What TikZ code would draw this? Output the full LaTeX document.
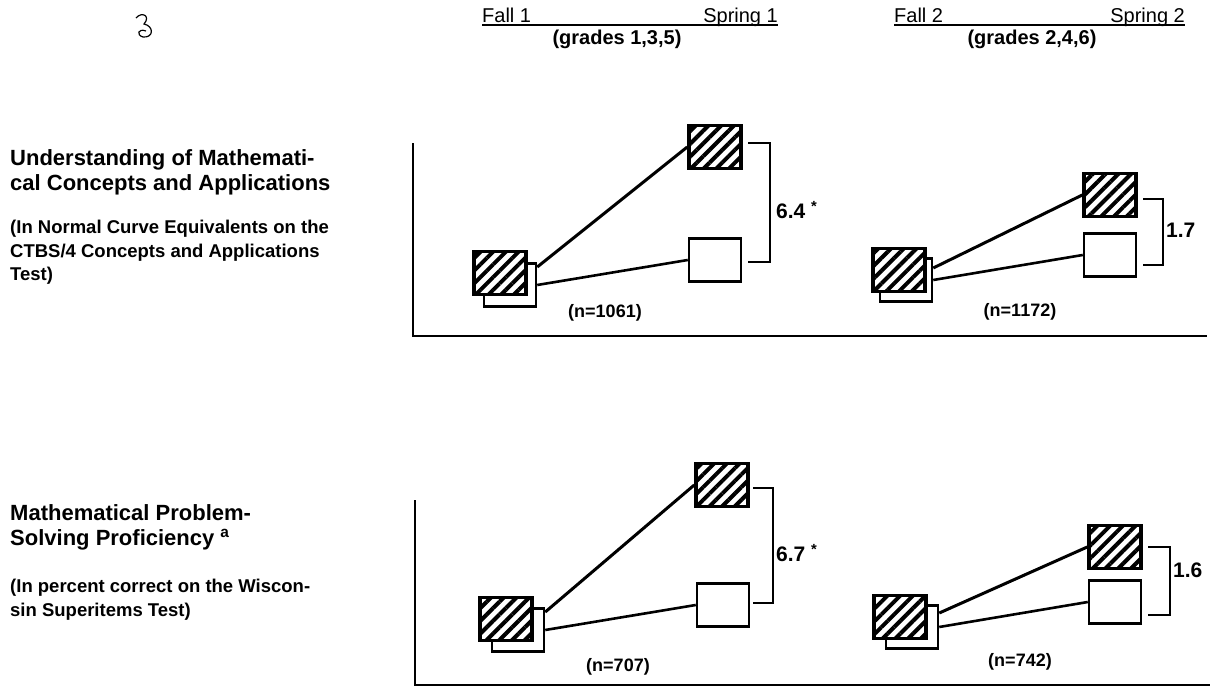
\documentclass[tikz,border=0pt]{standalone}
\usepackage{fontspec}
\setmainfont{Liberation Sans}
\usetikzlibrary{patterns.meta}

\begin{document}
\begin{tikzpicture}[x=1pt, y=-1pt,
    hatched/.style={draw, line width=3.5pt, minimum width=52pt, minimum height=43pt, inner sep=0pt,
      preaction={fill=white}, pattern={Lines[angle=45, distance=9pt, line width=4pt]}},
    plain/.style={draw, line width=2.5pt, fill=white, minimum width=52pt, minimum height=43pt, inner sep=0pt},
    link/.style={line width=2.6pt},
    bracket/.style={line width=1.4pt},
    axis/.style={line width=2.6pt},
    header/.style={font=\fontsize{20}{22}\selectfont, inner sep=0pt},
    grades/.style={font=\bfseries\fontsize{20}{22}\selectfont, inner sep=0pt, anchor=base},
    title/.style={font=\bfseries\fontsize{22}{25}\selectfont, align=left, inner sep=0pt, anchor=north west},
    note/.style={font=\bfseries\fontsize{18.5}{23.5}\selectfont, align=left, inner sep=0pt, anchor=north west},
    diff/.style={font=\bfseries\fontsize{21}{24}\selectfont, inner sep=0pt, anchor=west},
    count/.style={font=\bfseries\fontsize{18}{21}\selectfont, inner sep=0pt}]
    \useasboundingbox[fill=white] (0,0) rectangle (1213,694);
    \draw[line width=1.2pt] (136,18) .. controls (142,11) and (151,16) .. (144,24)
      .. controls (154,26) and (154,38) .. (143,37) .. controls (136,35) and (138,28) .. (146,31);

    \node[header, anchor=base west] (hdFallA) at (482,22) {Fall 1};
    \node[header, anchor=base east] (hdSprA) at (778,22) {Spring 1};
    \draw[line width=1.6pt] ([yshift=-3pt]hdFallA.base west) -- ([yshift=-3pt]hdSprA.base east);
    \node[grades] (grA) at (617,44) {(grades 1,3,5)};
    \node[header, anchor=base west] (hdFallB) at (894,22) {Fall 2};
    \node[header, anchor=base east] (hdSprB) at (1185,22) {Spring 2};
    \draw[line width=1.6pt] ([yshift=-3pt]hdFallB.base west) -- ([yshift=-3pt]hdSprB.base east);
    \node[grades] (grB) at (1032,44) {(grades 2,4,6)};

    \node[title] (ttlA) at (10,149) {Understanding of Mathemati-\\cal Concepts and Applications};
    \node[note] (noteA) at (10,220) {(In Normal Curve Equivalents on the\\CTBS/4 Concepts and Applications\\Test)};
    \node[title] (ttlC) at (10,504) {Mathematical Problem-\\Solving Proficiency \textsuperscript{a}};
    \node[note] (noteC) at (10,579) {(In percent correct on the Wiscon-\\sin Superitems Test)};

    \coordinate (axAtop) at (413,143);
    \coordinate (axAend) at (1207,336);
    \draw[axis] (axAtop) |- (axAend);
    \coordinate (axCtop) at (415,500);
    \coordinate (axCend) at (1210,685);
    \draw[axis] (axCtop) |- (axCend);

    \node[plain] (fallAW) at (510,285) {};
    \node[hatched] (fallAH) at (500,273) {};
    \node[hatched] (sprAH) at (715,147) {};
    \node[plain] (sprAW) at (715,260) {};
    \draw[link, line width=3pt] ([yshift=18pt]fallAW.east) -- (sprAH.west);
    \draw[link] (fallAW.east) -- (sprAW.west);
    \coordinate (brAtop) at (748,143);
    \coordinate (brAbot) at (748,262);
    \draw[bracket] (brAtop) -- ++(22,0) |- (brAbot);
    \node[diff] (diffA) at (776,210) {6.4 \textsuperscript{*}};
    \node[count] (nA) at (605,313) {(n=1061)};

    \node[plain] (fallBW) at (906,280) {};
    \node[hatched] (fallBH) at (899,270) {};
    \node[hatched] (sprBH) at (1110,195) {};
    \node[plain] (sprBW) at (1110,255) {};
    \draw[link, line width=3pt] ([yshift=12pt]fallBW.east) -- (sprBH.west);
    \draw[link] (fallBW.east) -- (sprBW.west);
    \coordinate (brBtop) at (1143,199);
    \coordinate (brBbot) at (1143,265);
    \draw[bracket] (brBtop) -- ++(20,0) |- (brBbot);
    \node[diff] (diffB) at (1166,230) {1.7};
    \node[count] (nB) at (1020,312) {(n=1172)};

    \node[plain] (fallCW) at (518,630) {};
    \node[hatched] (fallCH) at (506,619) {};
    \node[hatched] (sprCH) at (722,485) {};
    \node[plain] (sprCW) at (723,605) {};
    \draw[link, line width=3pt] ([yshift=18pt]fallCW.east) -- (sprCH.west);
    \draw[link] (fallCW.east) -- (sprCW.west);
    \coordinate (brCtop) at (753,488);
    \coordinate (brCbot) at (753,603);
    \draw[bracket] (brCtop) -- ++(20,0) |- (brCbot);
    \node[diff] (diffC) at (776,553) {6.7 \textsuperscript{*}};
    \node[count] (nC) at (618,667) {(n=707)};

    \node[plain] (fallDW) at (912,627) {};
    \node[hatched] (fallDH) at (900,617) {};
    \node[hatched] (sprDH) at (1115,547) {};
    \node[plain] (sprDW) at (1115,602) {};
    \draw[link, line width=3pt] ([yshift=14pt]fallDW.east) -- (sprDH.west);
    \draw[link] (fallDW.east) -- (sprDW.west);
    \coordinate (brDtop) at (1148,547);
    \coordinate (brDbot) at (1148,615);
    \draw[bracket] (brDtop) -- ++(22,0) |- (brDbot);
    \node[diff] (diffD) at (1173,570) {1.6};
    \node[count] (nD) at (1020,662) {(n=742)};
\end{tikzpicture}
\end{document}
